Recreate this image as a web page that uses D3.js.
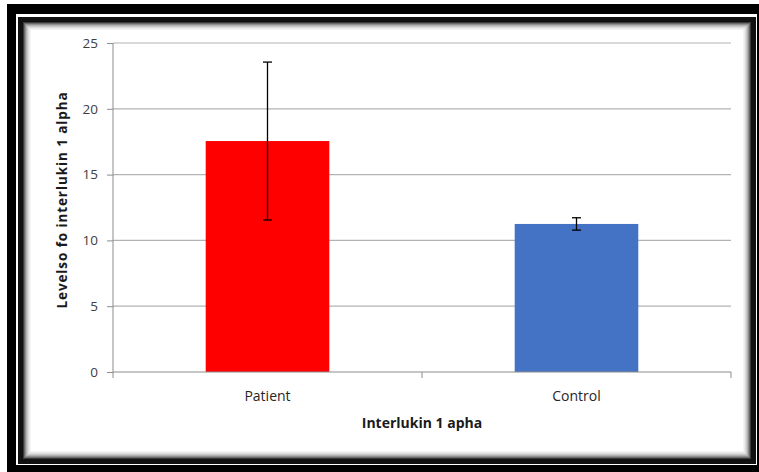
<!DOCTYPE html>
<html>
<head>
<meta charset="utf-8">
<script src="https://cdn.jsdelivr.net/npm/d3@7"></script>
<style>
  body { margin: 0; background: #fff; }
  text { font-family: "Open Sans", "Noto Sans", sans-serif; }
</style>
</head>
<body>
<svg id="chart" width="759" height="472"></svg>
<script>
// chart data
const categories = ["Patient", "Control"];
const means = [17.55, 11.25];
const errors = [6.0, 0.47];
const barColors = ["#ff0000", "#4472c4"];
const yTicks = [0, 5, 10, 15, 20, 25];

const svg = d3.select("#chart");
const margin = { top: 43, left: 113, bottom: 100, right: 28 };
const width = 759 - margin.left - margin.right;
const height = 472 - margin.top - margin.bottom;

// frame: thick black border, white gap, dark inner border with soft shadow
svg.append("rect").attr("x", 7).attr("y", 4).attr("width", 760).attr("height", 475).attr("fill", "#000");
svg.append("rect").attr("x", 16).attr("y", 14).attr("width", 741).attr("height", 451).attr("fill", "#fff");
svg.append("rect").attr("x", 18).attr("y", 17).attr("width", 738).attr("height", 447).attr("fill", "#111");
const shades = ["#3a3a3a", "#6a6a6a", "#909090", "#b0b0b0", "#c9c9c9", "#dcdcdc", "#eaeaea", "#f4f4f4", "#fafafa"];
shades.forEach((c, i) => {
  svg.append("rect")
    .attr("x", 23 + i).attr("y", 22 + i)
    .attr("width", 728 - 2 * i).attr("height", 437 - 2 * i)
    .attr("fill", i === shades.length - 1 ? "#fff" : c);
});

const g = svg.append("g").attr("transform", `translate(${margin.left},${margin.top})`);

const x = d3.scaleBand().domain(categories).range([0, width]).padding(0);
const y = d3.scaleLinear().domain([0, 25]).range([height, 0]);
const barW = x.bandwidth() * 0.4;

// gridlines
g.selectAll(".grid").data(yTicks.filter(d => d > 0)).join("line")
  .attr("x1", 0).attr("x2", width)
  .attr("y1", d => y(d)).attr("y2", d => y(d))
  .attr("stroke", "#b3b3b3").attr("stroke-width", 1.2);

// bars
g.selectAll(".bar").data(categories).join("rect")
  .attr("x", d => x(d) + (x.bandwidth() - barW) / 2)
  .attr("y", (d, i) => y(means[i]))
  .attr("width", barW)
  .attr("height", (d, i) => height - y(means[i]))
  .attr("fill", (d, i) => barColors[i]);

// error bars
const eb = g.selectAll(".err").data(categories).join("g")
  .attr("transform", d => `translate(${x(d) + x.bandwidth() / 2},0)`);
eb.append("line")
  .attr("y1", (d, i) => y(means[i] + errors[i]))
  .attr("y2", (d, i) => y(means[i] - errors[i]))
  .attr("stroke", "#000").attr("stroke-width", 1.3);
[1, -1].forEach(s => {
  eb.append("line")
    .attr("x1", -4.5).attr("x2", 4.5)
    .attr("y1", (d, i) => y(means[i] + s * errors[i]))
    .attr("y2", (d, i) => y(means[i] + s * errors[i]))
    .attr("stroke", "#000").attr("stroke-width", 1.3);
});

// y axis
const yAxis = g.append("g").call(d3.axisLeft(y).tickValues(yTicks).tickSize(6).tickPadding(9));
yAxis.select(".domain").attr("stroke", "#8c8c8c").attr("d", `M0,${height}V0`);
yAxis.selectAll(".tick line").attr("stroke", "#8c8c8c");
yAxis.selectAll(".tick text").attr("font-size", 13.5).attr("fill", "#404040");

// x axis
const xAxis = g.append("g").attr("transform", `translate(0,${height})`)
  .call(d3.axisBottom(x).tickSize(0).tickPadding(19));
xAxis.select(".domain").attr("stroke", "#8c8c8c").attr("d", `M0,0H${width}`);
xAxis.selectAll(".tick text").attr("font-size", 14).attr("fill", "#262626");
g.selectAll(".xtick").data([0, width / 2, width]).join("line")
  .attr("x1", d => d).attr("x2", d => d)
  .attr("y1", height).attr("y2", height + 6)
  .attr("stroke", "#8c8c8c");

// axis titles
svg.append("text")
  .attr("transform", "translate(67,200) rotate(-90)")
  .attr("text-anchor", "middle")
  .attr("font-size", 13.5).attr("font-weight", "bold").attr("fill", "#1a1a1a")
  .attr("letter-spacing", 0.9)
  .text("Levelso fo interlukin 1 alpha");
svg.append("text")
  .attr("x", 422).attr("y", 428)
  .attr("text-anchor", "middle")
  .attr("font-size", 14).attr("font-weight", "bold").attr("fill", "#1a1a1a")
  .text("Interlukin 1 apha");
</script>
</body>
</html>
